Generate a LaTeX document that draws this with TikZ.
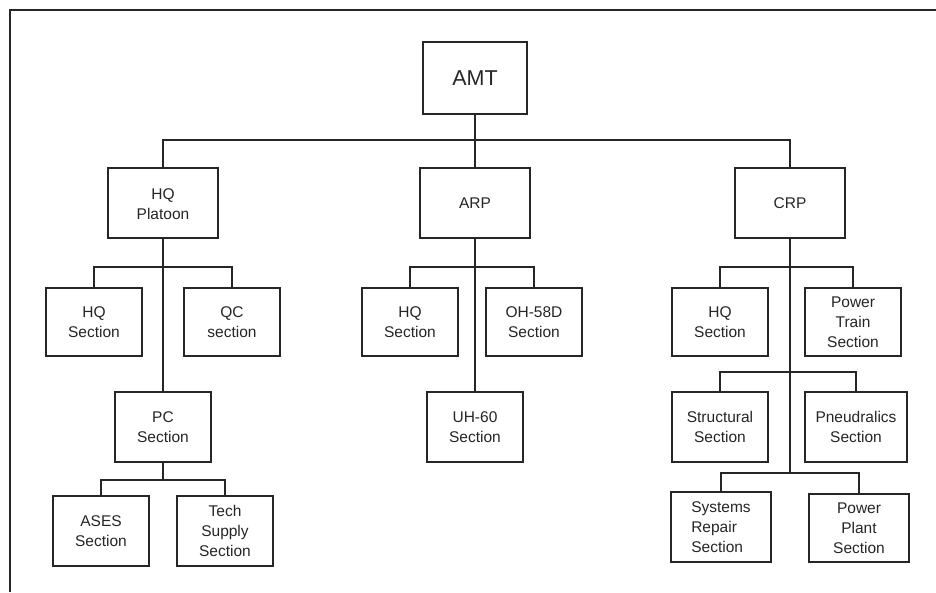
\documentclass[tikz,border=0pt]{standalone}
\usepackage{fontspec}
\setmainfont{Liberation Sans}
\begin{document}
\begin{tikzpicture}[x=1pt,y=-1pt,
  box/.style={draw=black!85, line width=1.3pt, fill=white, inner sep=0pt, align=center,
    font=\fontsize{15.5}{20}\selectfont, text=black!85},
  conn/.style={draw=black!85, line width=1.2pt}]
\useasboundingbox (0,0) rectangle (936,592);
\draw[line width=1.3pt, black!85] (10,592) -- (10,10) -- (936,10);

% level 0
\node[box, minimum width=104, minimum height=72, font=\fontsize{21.5}{26}\selectfont] (amt) at (475,78) {AMT};
% level 1
\node[box, minimum width=110, minimum height=70] (hqp) at (163,203) {\\[-6pt]HQ\\Platoon};
\node[box, minimum width=110, minimum height=70] (arp) at (475,203) {ARP};
\node[box, minimum width=110, minimum height=70] (crp) at (790,203) {CRP};
% HQ platoon children
\node[box, minimum width=96, minimum height=68] (hqs1) at (94,322) {HQ\\Section};
\node[box, minimum width=96, minimum height=68] (qc) at (232,322) {QC\\section};
\node[box, minimum width=96, minimum height=70] (pc) at (163,427) {PC\\Section};
\node[box, minimum width=96, minimum height=70] (ases) at (101,531) {ASES\\Section};
\node[box, minimum width=96, minimum height=70] (tech) at (225,531) {Tech\\Supply\\Section};
% ARP children
\node[box, minimum width=96, minimum height=68] (hqs2) at (410,322) {HQ\\Section};
\node[box, minimum width=96, minimum height=68] (oh) at (534,322) {OH-58D\\Section};
\node[box, minimum width=96, minimum height=70] (uh) at (475,427) {UH-60\\Section};
% CRP children
\node[box, minimum width=96, minimum height=68] (hqs3) at (720,322) {HQ\\Section};
\node[box, minimum width=96, minimum height=68] (pt) at (853,322) {Power\\Train\\Section};
\node[box, minimum width=96, minimum height=70] (str) at (720,427) {Structural\\Section};
\node[box, minimum width=102, minimum height=70] (pn) at (856,427) {Pneudralics\\Section};
\node[box, minimum width=100, minimum height=70, align=left] (sys) at (721,527) {Systems\\Repair\\Section};
\node[box, minimum width=100, minimum height=68] (pp) at (859,528) {Power\\Plant\\Section};

% connectors level 0-1
\coordinate (bus) at (475,140);
\draw[conn] (amt.south) -- (arp.north);
\draw[conn] (hqp.north) |- (bus) -| (crp.north);

% HQ platoon
\coordinate (b1) at (163,267);
\coordinate (b2) at (163,480);
\draw[conn] (hqp.south) -- (pc.north);
\draw[conn] (hqs1.north) |- (b1) -| (qc.north);
\draw[conn] (pc.south) -- (b2);
\draw[conn] (ases.north) |- (b2) -| (tech.north);

% ARP
\coordinate (b3) at (475,267);
\draw[conn] (arp.south) -- (uh.north);
\draw[conn] (hqs2.north) |- (b3) -| (oh.north);

% CRP
\coordinate (c1) at (790,267);
\coordinate (c2) at (790,372);
\coordinate (c3) at (790,473);
\draw[conn] (crp.south) -- (c3);
\draw[conn] (hqs3.north) |- (c1) -| (pt.north);
\draw[conn] (str.north) |- (c2) -| (pn.north);
\draw[conn] (sys.north) |- (c3) -| (pp.north);
\end{tikzpicture}
\end{document}
